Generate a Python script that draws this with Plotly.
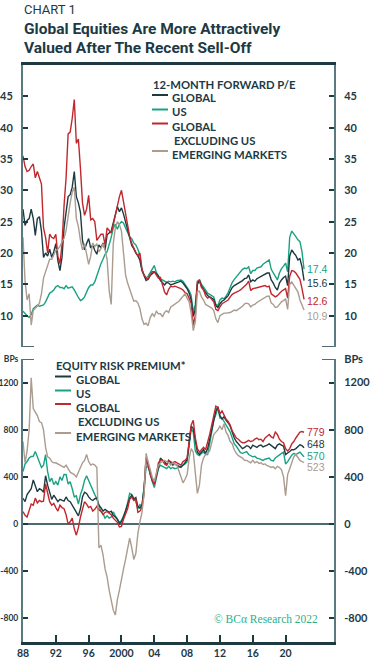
import plotly.graph_objects as go

# ---------------- data (quarterly, 1988Q1 .. 2022Q2) ----------------
quarters = [1988 + i / 4 for i in range(138)]

pe_global = [
    27, 24.4, 25.2, 25.5,  27, 25.5, 22.8, 25.5,  25.8, 23.5, 19.3, 20,
    19.5, 20.6, 19.3, 20.2,  21.5, 18.8, 17.2, 19.3,  24, 27, 29, 29.3,
    30.5, 33, 29, 28,  26.5, 22, 20.5, 21.5,  22.3, 20.8, 21.3, 20.4,
    19.8, 21.3, 20.8, 21.6,  20.5, 22.9, 23.2, 23.5,  24.8, 26, 27.4, 26.6,
    27.2, 26.2, 25, 23.4,  22.2, 21.2, 20.7, 20,  19.6, 18.8, 17.2, 16.5,
    15.6, 15.8, 16.4, 16.7,  17, 16.7, 16.3, 15.6,  15.2, 14.9, 15.3, 15.2,
    14.9, 15.0, 15.1, 15.3,  15.4, 15.5, 15.2, 14.8,  14.3, 13.6, 12.5, 9.9,
    11.0, 15.0, 15.6, 14.7,  14.2, 13.5, 13.2, 13.0,  12.8, 12.6, 11.6, 11.3,
    11.9, 12.3, 12.5, 12.9,  13.2, 13.9, 14.5, 14.8,  15.0, 15.1, 15.3, 15.6,
    15.9, 16.0, 16.5, 15.4,  15.7, 15.5, 15.9, 16.1,  16.3, 16.5, 16.6, 16.8,
    16.8, 15.7, 15.2, 14.5,  14.1, 15.2, 15.7, 16.1,  16.3, 14.8, 19.5, 20.5,
    20.0, 19.6, 18.9, 19.1,  17.8, 15.6,
]
pe_us = [
    10.7, 10.3, 10.0, 9.7,  10.2, 11.1, 11.4, 11.7,  11.5, 11.6, 11.7, 12.2,
    12.9, 13.6, 13.8, 14.1,  14.6, 14.8, 14.5, 14.5,  14.3, 14.8, 14.4, 14.5,
    14.6, 14.1, 13.4, 12.9,  12.4, 12.6, 13.0, 13.7,  14.5, 14.9, 14.9, 15.4,
    16.5, 17.2, 18.3, 19.0,  19.8, 20.2, 21.3, 22.5,  24.0, 24.6, 23.8, 24.6,
    25.0, 24.8, 24.0, 23.4,  22.6, 22.3, 21.6, 21.3,  20.6, 19.6, 17.3, 16.5,
    16.0, 16.3, 16.8, 17.4,  18.0, 16.9, 16.3, 15.8,  15.7, 15.5, 15.3, 15.5,
    15.4, 15.5, 15.4, 15.6,  15.6, 15.7, 15.5, 15.0,  14.6, 14.0, 13.2, 10.5,
    11.8, 15.3, 15.8, 15.0,  14.6, 14.0, 13.6, 13.4,  13.2, 13.0, 11.8, 11.6,
    12.5, 12.8, 12.7, 13.1,  13.7, 14.6, 15.3, 15.8,  16.2, 16.6, 17.0, 17.4,
    17.6, 17.5, 17.8, 16.7,  17.2, 17.2, 17.6, 17.7,  17.8, 18.2, 18.4, 18.6,
    18.9, 17.4, 16.8, 16.2,  15.7, 16.8, 17.5, 17.9,  18.4, 17.0, 22.5, 23.5,
    23.1, 22.6, 22.1, 21.8,  20.2, 17.4,
]
pe_global_ex_us = [
    35.5, 33.8, 33, 33.2,  33.8, 34.2, 32, 33,  32, 31, 24, 22.5,
    20, 23, 22.5, 22.3,  23, 19.5, 18.3, 21.3,  27.5, 32, 39, 39.3,
    41.5, 44.5, 37.5, 38.2,  33.5, 28, 26, 27,  29.2, 25.3, 25.5, 25,
    22, 22.5, 23, 23,  21.3, 24, 23.5, 23.2,  24.5, 26, 27.8, 29,
    30, 28, 26, 24.2,  22.6, 21.5, 20.7, 20.1,  19.5, 20, 17.4, 16.5,
    16, 15.8, 16.5, 17,  17, 16.4, 16, 16.1,  14.9, 13.8, 13.3, 14.2,
    14.7, 14.6, 14.7, 14.6,  14.5, 14.3, 14.1, 13.7,  13.5, 12.7, 12.0, 8.5,
    10.0, 15.5, 15.6, 14.5,  14.1, 13.2, 12.8, 13.0,  12.6, 12.2, 11.0, 10.8,
    11.4, 11.9, 12.1, 12.3,  12.5, 13.0, 13.4, 13.6,  13.7, 13.9, 14.1, 14.4,
    14.6, 15.0, 15.5, 14.0,  14.3, 14.4, 14.4, 14.6,  14.6, 14.7, 14.8, 14.6,
    14.7, 13.5, 13.3, 13.0,  13.2, 13.6, 13.9, 14.1,  14.3, 12.8, 16.3, 17.2,
    17.1, 16.8, 16.3, 15.8,  14.3, 12.6,
]
pe_em = [
    22.5, 15.5, 12.5, 13.5,  8.5, 10.8, 11.2, 11.5,  12.0, 13.5, 16.0, 17.0,
    17.8, 19.0, 19.0, 19.8,  20.4, 20.6, 21.0, 21.8,  22.3, 23.6, 26.0, 28.0,
    29.7, 30.5, 25.5, 24.2,  22.0, 20.5, 21.5, 20.0,  18.2, 19.5, 21.6, 21.0,
    21.5, 20.2, 20.7, 21.5,  20.5, 19.0, 14.0, 11.8,  21.5, 24.0, 25.0, 24.5,
    23.5, 20.0, 16.5, 15.2,  14.2, 13.0, 12.3, 12.4,  12.0, 11.1, 9.5, 8.6,
    8.8, 8.4, 9.7, 10.3,  9.9, 10.7, 10.3, 10.3,  9.8, 10.5, 10.8, 10.5,
    11.4, 11.6, 11.8, 12.0,  12.3, 12.7, 13.2, 13.5,  12.8, 12.2, 10.4, 7.6,
    9.0, 13.8, 13.9, 13.0,  12.5, 11.8, 11.6, 11.4,  11.2, 10.8, 9.5, 8.9,
    10.0, 10.2, 10.4, 10.4,  10.4, 10.5, 10.7, 10.9,  10.8, 11.0, 11.3, 11.5,
    11.9, 12.0, 11.9, 11.4,  11.7, 11.8, 12.1, 12.3,  12.5, 12.7, 12.9, 13.1,
    13.1, 12.0, 11.8, 11.3,  11.4, 11.8, 12.2, 12.4,  12.7, 11.0, 15.0, 15.4,
    14.8, 14.3, 13.8, 12.5,  11.7, 10.9,
]

erp_global = [
    219, 190, 250, 275,  300, 375, 320, 275,  300, 290, 270, 410,
    330, 275, 210, 245,  215, 190, 210, 200,  195, 230, 200, 190,
    160, 130, 90, 70,  130, 230, 270, 260,  230, 210, 200, 215,
    220, 160, 140, 110,  125, 115, 100, 110,  75, 60, 40, 5,
    20, 60, 120, 160,  219, 245, 210, 225,  150, 135, 160, 300,
    560, 500, 430, 370,  340, 400, 480, 560,  540, 530, 500, 540,
    520, 500, 510, 500,  490, 480, 500, 520,  550, 670, 830, 810,
    700, 610, 590, 610,  630, 600, 640, 720,  800, 880, 960, 995,
    920, 890, 910, 880,  860, 830, 780, 730,  700, 680, 665, 640,
    650, 665, 660, 640,  670, 660, 650, 665,  670, 655, 660, 670,
    680, 665, 655, 640,  670, 680, 670, 660,  590, 600, 615, 630,
    630, 640, 660, 672,  665, 648,
]
erp_us = [
    445, 510, 531, 560,  573, 575, 616, 570,  515, 480, 500, 590,
    445, 360, 390, 335,  360, 330, 400, 370,  420, 420, 340, 360,
    300, 230, 240, 170,  250, 300, 370, 410,  370, 330, 275, 250,
    215, 160, 105, 90,  50, 70, 50, 60,  105, 70, 40, 15,
    30, 75, 110, 180,  260, 250, 215, 190,  130, 165, 150, 290,
    480, 490, 420, 360,  310, 380, 470, 500,  490, 480, 470, 490,
    470, 480, 470, 475,  480, 490, 500, 510,  530, 660, 810, 780,
    620, 590, 580, 600,  610, 590, 590, 680,  780, 880, 930, 985,
    900, 900, 870, 840,  820, 780, 730, 680,  660, 630, 605, 600,
    610, 615, 590, 580,  570, 575, 560, 555,  545, 540, 550, 555,
    560, 540, 535, 560,  575, 590, 600, 610,  510, 530, 560, 585,
    600, 590, 600, 610,  590, 570,
]
erp_global_ex_us = [
    105, 75, 60, 110,  170, 160, 220, 180,  200, 190, 195, 340,
    260, 190, 160, 175,  140, 110, 160, 140,  130, 80, 0, 20,
    50, -40, -94, -30,  60, 120, 190, 170,  140, 150, 110, 125,
    150, 120, 110, 80,  100, 105, 90, 80,  50, 30, 15, -25,
    -20, 40, 85, 130,  210, 230, 200, 215,  100, 110, 140, 260,
    560, 510, 420, 370,  335, 420, 520, 540,  545, 510, 500, 540,
    530, 520, 530, 520,  510, 500, 530, 540,  560, 700, 840, 880,
    730, 640, 610, 630,  650, 630, 690, 760,  840, 920, 1000, 990,
    935, 960, 920, 890,  870, 840, 790, 760,  730, 720, 700, 690,
    690, 700, 710, 700,  705, 720, 730, 715,  720, 700, 730, 745,
    760, 740, 730, 780,  760, 720, 700, 690,  640, 620, 640, 680,
    700, 730, 760, 780,  785, 779,
]
erp_em = [
    700, 520, 620, 800,  1240, 980, 950, 920,  870, 860, 800, 650,
    570, 560, 530, 520,  520, 510, 500, 490,  480, 500, 470, 440,
    430, 420, 400, 440,  480, 520, 540, 590,  530, 500, 510, 500,
    480, -200, -180, -260,  -380, -450, -560, -650,  -730, -770, -640, -560,
    -450, -380, -300, -220,  -120, -200, -300, -250,  -80, 20, 100, 250,
    600, 530, 460, 400,  360, 420, 500, 520,  530, 540, 530, 520,
    500, 520, 505, 500,  450, 400, 350, 380,  420, 560, 640, 610,
    450, 260, 330, 500,  560, 590, 600, 620,  690, 760, 780, 800,
    830, 800, 850, 780,  750, 700, 680, 630,  600, 580, 570, 560,
    540, 540, 530, 520,  540, 520, 530, 515,  520, 505, 510, 495,
    490, 480, 485, 470,  490, 480, 460, 400,  240, 420, 470, 520,
    570, 590, 560, 540,  530, 523,
]

year_ticks = [1988, 1992, 1996, 2000, 2004, 2008, 2012, 2016, 2020]
year_labels = ["88", "92", "96", "2000", "04", "08", "12", "16", "20"]
pe_ticks = [10, 15, 20, 25, 30, 35, 40, 45]
erp_ticks = [-800, -400, 0, 400, 800, 1200, 1400]
erp_labels = ["-800", "-400", "0", "400", "800", "1200", "BPs"]

series_names = ["GLOBAL", "US", "GLOBAL<br> EXCLUDING US", "EMERGING MARKETS"]
pe_end_labels = ["15.6", "17.4", "12.6", "10.9"]
pe_label_pos = [15.25, 17.4, 12.4, 10.0]
erp_end_labels = ["648", "570", "779", "523"]
erp_label_pos = [677, 579, 783, 481]

# ---------------- style ----------------
C_GLOBAL = "#1d3a40"
C_US = "#19a282"
C_GXUS = "#c1272d"
C_EM = "#aa9c8f"
colors = [C_GLOBAL, C_US, C_GXUS, C_EM]
TXT = "#1d3a44"
AXIS = "#587a80"
TICKF = dict(family="Lato, DejaVu Sans, sans-serif", size=11, color=TXT, weight=700)
SMALLF = dict(family="Lato, DejaVu Sans, sans-serif", size=8.5, color=TXT, weight=700)
XTICKF = dict(family="Lato, DejaVu Sans, sans-serif", size=10.5, color=TXT, weight=700)
LEGF = dict(family="Lato, DejaVu Sans, sans-serif", size=11.3, color=TXT, weight=700)
NUMF = "Liberation Sans, Arial, sans-serif"

W, H = 372, 658
L, R, T, B = 23, 38, 65, 16
PW, PH = W - L - R, H - T - B


def px(x):
    return (x - L) / PW


def py(y):
    return (H - B - y) / PH


top_dom = [py(347), 1.0]
bot_dom = [0.0, py(359)]

fig = go.Figure()

pe_series = [pe_global, pe_us, pe_global_ex_us, pe_em]
erp_series = [erp_global, erp_us, erp_global_ex_us, erp_em]
order = [1, 0, 2, 3]
for i in order:
    fig.add_trace(go.Scatter(x=quarters, y=pe_series[i], mode="lines", xaxis="x2", yaxis="y",
                             line=dict(color=colors[i], width=1.4), showlegend=False, hoverinfo="skip"))
for i in order:
    fig.add_trace(go.Scatter(x=quarters, y=erp_series[i], mode="lines", xaxis="x", yaxis="y2",
                             line=dict(color=colors[i], width=1.4), showlegend=False, hoverinfo="skip"))
# empty traces so the right-hand axes exist
fig.add_trace(go.Scatter(x=[None], y=[None], xaxis="x2", yaxis="y3", showlegend=False, hoverinfo="skip"))
fig.add_trace(go.Scatter(x=[None], y=[None], xaxis="x", yaxis="y4", showlegend=False, hoverinfo="skip"))

yax_common = dict(showgrid=False, ticks="inside", ticklen=5, tickwidth=1.5, tickcolor=TXT, automargin=False,
                  showline=True, linecolor=AXIS, linewidth=2)

fig.update_layout(
    width=W, height=H,
    margin=dict(l=L, r=R, t=T, b=B, autoexpand=False),
    paper_bgcolor="white", plot_bgcolor="white",
    xaxis=dict(domain=[0, 1], anchor="y2", range=[1988, 2025.9], tickvals=year_ticks, ticktext=year_labels,
               ticks="inside", ticklen=7, tickwidth=2, tickcolor=C_GLOBAL, showline=True, automargin=False,
               linecolor=C_GLOBAL, linewidth=2.5, showgrid=False, zeroline=False, tickfont=XTICKF,
               ticklabelstandoff=0),
    xaxis2=dict(matches="x", anchor="y", side="top", showline=True, linecolor=C_GLOBAL, linewidth=2.5,
                showticklabels=False, ticks="", showgrid=False, zeroline=False, automargin=False),
    yaxis=dict(domain=top_dom, anchor="x2", range=[5, 50], tickvals=pe_ticks, zeroline=False,
               tickfont=TICKF, ticklabelstandoff=6, **yax_common),
    yaxis3=dict(overlaying="y", anchor="x2", side="right", range=[5, 50], tickvals=pe_ticks,
                zeroline=False, tickfont=TICKF, ticklabelstandoff=6, **yax_common),
    yaxis2=dict(domain=bot_dom, anchor="x", range=[-1000, 1400], tickvals=erp_ticks, ticktext=erp_labels,
                zeroline=True, zerolinecolor="#4c6a70", zerolinewidth=1.5,
                tickfont=SMALLF, ticklabelstandoff=1, **yax_common),
    yaxis4=dict(overlaying="y2", anchor="x", side="right", range=[-1000, 1400], tickvals=erp_ticks,
                ticktext=erp_labels, zeroline=False, tickfont=TICKF, ticklabelstandoff=6, **yax_common),
)

shapes = []
# end caps of the vertical axes
for (x0, x1) in [(0, 11 / PW), (1 - 12 / PW, 1)]:
    shapes.append(dict(type="line", xref="paper", yref="y", x0=x0, x1=x1, y0=5, y1=5,
                       line=dict(color=TXT, width=1.5)))
    shapes.append(dict(type="line", xref="paper", yref="y2", x0=x0, x1=x1, y0=1400, y1=1400,
                       line=dict(color=TXT, width=1.5)))

ann = []


def text(t, x, y, font, xref="paper", yref="paper"):
    ann.append(dict(text=t, xref=xref, yref=yref, x=x, y=y, xanchor="left", yanchor="middle",
                    align="left", showarrow=False, font=font, borderpad=0))


# titles
text("CHART 1", px(23), py(10), dict(family="Roboto, Liberation Sans, sans-serif", size=13, color=TXT))
for txt, yy in [("Global Equities Are More Attractively", 28.5), ("Valued After The Recent Sell-Off", 47.5)]:
    text(txt, px(23), py(yy), dict(family="Roboto, Liberation Sans, sans-serif", size=15.5, color=TXT, weight=700))


# legends
def legend(x_line, x_text, y_head, head, ys_text, ys_line):
    text(head, px(x_line), py(y_head), LEGF)
    for i, name in enumerate(series_names):
        parts = name.split("<br>")
        for j, p in enumerate(parts):
            text(p.strip(), px(x_text + (2 if j else 0)), py(ys_text[i] + 14 * j), LEGF)
        yl = py(ys_line[i])
        shapes.append(dict(type="line", xref="paper", yref="paper", x0=px(x_line), x1=px(x_line + 16),
                           y0=yl, y1=yl, line=dict(color=colors[i], width=2)))


legend(152, 171, 84, "12-MONTH FORWARD P/E", [98, 112, 126, 154], [95, 109.5, 123.5, 151])
legend(55, 75, 365, "EQUITY RISK PREMIUM*", [379.5, 393, 407, 436], [376.5, 390.5, 404, 433])

# end-value labels
for i in range(4):
    text(pe_end_labels[i], 2022.5, pe_label_pos[i], dict(family=NUMF, size=10.5, color=colors[i]), "x", "y")
    text(erp_end_labels[i], 2022.45, erp_label_pos[i], dict(family=NUMF, size=10.5, color=colors[i]), "x", "y2")

text("© BCα Research 2022", px(213), py(619),
     dict(family="Liberation Serif, DejaVu Serif, serif", size=11.5, color="#2bb08b"))

fig.update_layout(shapes=shapes, annotations=ann)
fig.write_html("out.html", config={"displayModeBar": False},
               post_script="document.body.style.margin='0';document.body.style.padding='0';")
